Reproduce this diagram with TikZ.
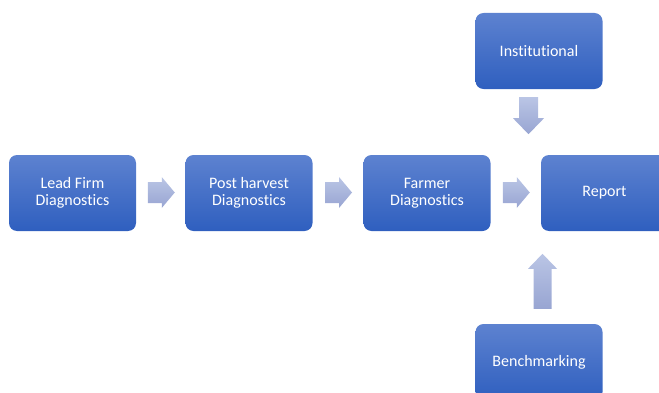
\documentclass[tikz,border=0pt]{standalone}
\usepackage{fontspec}
\setmainfont{Carlito}[Ligatures=NoCommon]
\usetikzlibrary{calc}
\definecolor{boxtop}{RGB}{93,130,208}
\definecolor{boxbot}{RGB}{47,95,191}
\definecolor{arrtop}{RGB}{186,197,229}
\definecolor{arrbot}{RGB}{152,165,210}
\tikzset{
  stagebox/.style={rectangle, rounded corners=8pt, minimum width=127pt, minimum height=76pt,
    top color=boxtop, bottom color=boxbot, draw=none, text=white, align=center, inner sep=0pt,
    font=\fontsize{16}{17.5}\selectfont},
  blockarrow/.style={top color=arrtop, bottom color=arrbot, draw=none}
}
\begin{document}
\begin{tikzpicture}[x=1pt,y=1pt]
\useasboundingbox (0,0) rectangle (659,392);
\clip (0,0) rectangle (659,392);
\node[stagebox] (lead) at (72.5,199) {Lead Firm\\Diagnostics};
\node[stagebox] (post) at (249,199) {Post harvest\\Diagnostics};
\node[stagebox] (farmer) at (427,199) {Farmer\\Diagnostics};
\node[stagebox] (report) at (604.5,199) {Report};
\node[stagebox] (inst) at (539,341) {Institutional};
\node[stagebox] (bench) at (539,30) {Benchmarking};
% horizontal arrows
\foreach \a/\b/\n in {lead/post/1, post/farmer/2, farmer/report/3}{
  \path ($(\a.east)!0.5!(\b.west)+(-13,0.5)$) coordinate (s\n);
  \path[blockarrow] (s\n) -- ++(0,10.5) -- ++(14,0) -- ++(0,5) -- ++(13,-15.5)
     -- ++(-13,-15.5) -- ++(0,5) -- ++(-14,0) -- cycle;
}
% down arrow from Institutional
\path ($(inst.south)+(-10.5,-8)$) coordinate (d0);
\path[blockarrow] (d0) -- ++(9.5,0) -- ++(0,-21) -- ++(6,0) -- ++(-15.5,-16)
   -- ++(-15.5,16) -- ++(6,0) -- ++(0,21) -- cycle;
% up arrow from Benchmarking
\path ($(bench.north)+(3.5,15)$) coordinate (u0);
\path[blockarrow] (u0) -- ++(9,0) -- ++(0,40) -- ++(5.5,0) -- ++(-14.5,15)
   -- ++(-14.5,-15) -- ++(5.5,0) -- ++(0,-40) -- cycle;
\end{tikzpicture}
\end{document}
